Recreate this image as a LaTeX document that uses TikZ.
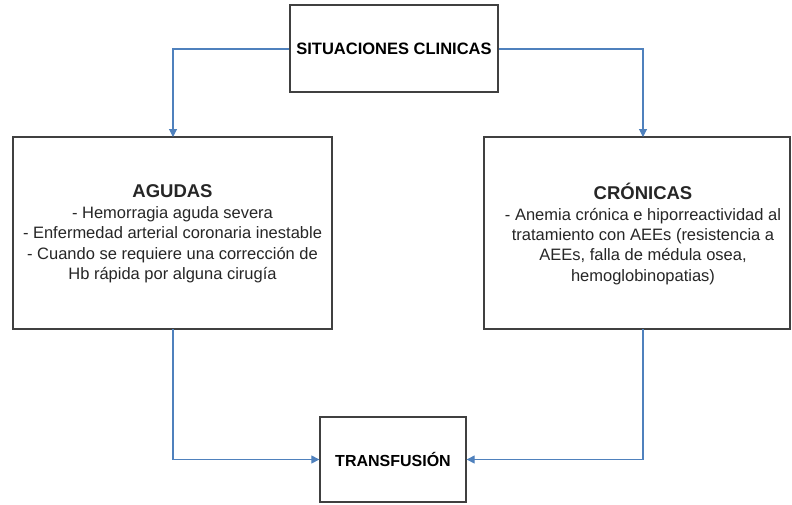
\documentclass[tikz,border=0pt]{standalone}
\usepackage{fontspec}
\setmainfont{Liberation Sans}
\usetikzlibrary{arrows.meta}
\definecolor{arrowblue}{HTML}{4F81BD}
\definecolor{boxgray}{HTML}{404040}
\begin{document}
\begin{tikzpicture}[x=1pt,y=-1pt,
 box/.style={draw=boxgray, line width=1.3pt, fill=white, inner sep=0pt, align=center, anchor=center},
 conn/.style={draw=arrowblue, line width=1.1pt, -{Triangle[length=8pt,width=8pt]}},
 bodytext/.style={align=center, inner sep=0pt, font=\fontsize{16.5}{20.4}\selectfont, text=black!85},
]
\useasboundingbox (0,0) rectangle (792,504);
\node[box, minimum width=208pt, minimum height=87pt] (sit) at (394,48.5)
  {\fontsize{16.5}{20}\selectfont\bfseries SITUACIONES CLINICAS};
\node[box, minimum width=319pt, minimum height=192pt] (agudas) at (172.5,233) {};
\node[bodytext] (agudastext) at (172.5,234)
  {{\fontsize{18.5}{21}\selectfont\bfseries AGUDAS}\\
   - Hemorragia aguda severa\\
   - Enfermedad arterial coronaria inestable\\
   - Cuando se requiere una corrección de\\
   Hb rápida por alguna cirugía};
\node[box, minimum width=306pt, minimum height=192pt] (cronicas) at (637,233) {};
\node[bodytext] (cronicastext) at (643,234)
  {{\fontsize{18.5}{21}\selectfont\bfseries CRÓNICAS}\\
   - Anemia crónica e hiporreactividad al\\
   tratamiento con AEEs (resistencia a\\
   AEEs, falla de médula osea,\\
   hemoglobinopatias)};
\node[box, minimum width=146pt, minimum height=85pt] (transf) at (393,459.5)
  {\fontsize{16}{20}\selectfont\bfseries TRANSFUSIÓN};
\coordinate (agin) at (173,137);
\coordinate (crin) at (643,137);
\coordinate (agout) at (173,329);
\coordinate (crout) at (643,329);
\draw[conn] (sit.west |- 0,49) -| (agin);
\draw[conn] (sit.east |- 0,49) -| (crin);
\draw[conn] (agout) |- (transf.west);
\draw[conn] (crout) |- (transf.east);
\end{tikzpicture}
\end{document}
